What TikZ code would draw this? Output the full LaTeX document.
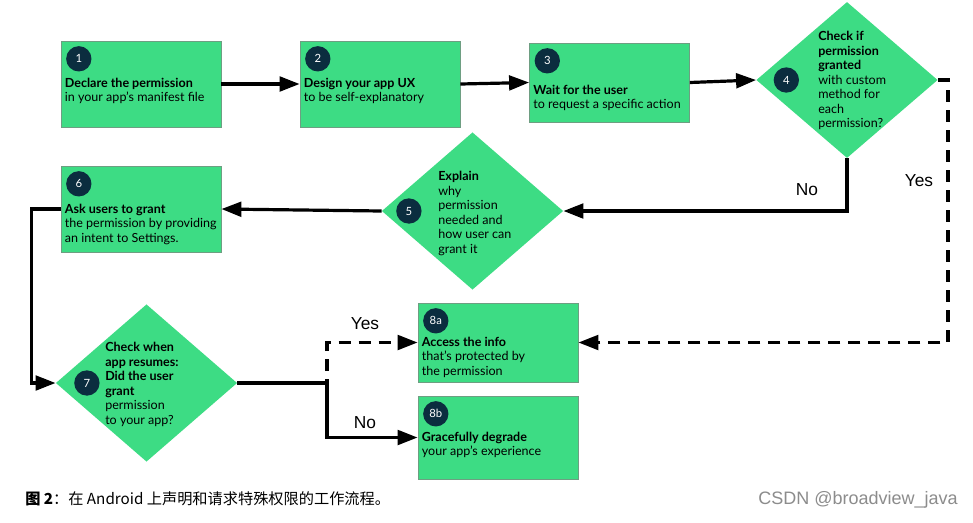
\documentclass[tikz,border=0pt]{standalone}
\usepackage{fontspec}
\setmainfont{Lato}
\newfontfamily\cjk{Noto Sans CJK SC}
\newfontfamily\lblfont{Liberation Sans}
\usetikzlibrary{shapes.geometric, arrows.meta, positioning}

\definecolor{droidgreen}{HTML}{3DDC84}
\definecolor{droidnavy}{HTML}{0B2D3F}
\definecolor{edgegray}{HTML}{6E9E82}

\tikzset{
  stepbox/.style={rectangle, fill=droidgreen, draw=edgegray, line width=0.6pt,
    minimum width=120pt, inner sep=0pt},
  choice/.style={diamond, fill=droidgreen, inner sep=0pt,
    minimum width=136pt, minimum height=118pt},
  num/.style={circle, fill=droidnavy, text=white, minimum size=19pt, inner sep=0pt,
    font=\fontsize{8.5}{8.5}\selectfont},
  txt/.style={anchor=north west, align=left, inner sep=0pt,
    font=\fontsize{9.4}{10.9}\selectfont},
  flow/.style={line width=2.4pt, -{Triangle[length=15pt, width=11pt]}},
  yesflow/.style={flow, dash pattern=on 9pt off 6pt},
  lbl/.style={font=\lblfont\fontsize{13}{13}\selectfont},
}

\begin{document}
\begin{tikzpicture}[x=0.75pt, y=-0.75pt]
  \useasboundingbox[fill=white] (0,0) rectangle (973,522);

  % steps
  \node (b1) [stepbox, minimum height=64.5pt] at (141,84) {};
  \node (b2) [stepbox, minimum height=64.5pt] at (380,84) {};
  \node (b3) [stepbox, minimum height=59.25pt] at (609.5,82.5) {};
  \node (b6) [stepbox, minimum height=64.5pt] at (141,209) {};
  \node (b8a) [stepbox, minimum height=59.25pt] at (498,342.5) {};
  \node (b8b) [stepbox, minimum height=62.25pt] at (498,437.5) {};

  % decisions
  \node (d4) [choice, minimum height=117pt] at (847,80) {};
  \node (d5) [choice] at (472.5,211) {};
  \node (d7) [choice] at (146.5,383) {};

  % numbers
  \node (n1) [num, below right=6.8pt and 6.8pt of b1.north west] {1};
  \node (n2) [num, below right=6.8pt and 6.8pt of b2.north west] {2};
  \node (n3) [num, below right=6.8pt and 6.8pt of b3.north west] {3};
  \node (n6) [num, below right=6.8pt and 6.8pt of b6.north west] {6};
  \node (n8a) [num, below right=6.8pt and 6.8pt of b8a.north west] {8a};
  \node (n8b) [num, below right=6.8pt and 6.8pt of b8b.north west] {8b};
  \node (n4) [num, right=13pt of d4.west] {4};
  \node (n5) [num, right=10.8pt of d5.west] {5};
  \node (n7) [num, right=13.8pt of d7.west] {7};

  % texts
  \node (t1) [txt] at ([shift={(4,37)}]b1.north west)
    {\textbf{Declare the permission}\\in your app’s manifest file};
  \node (t2) [txt] at ([shift={(4,37)}]b2.north west)
    {\textbf{Design your app UX}\\to be self-explanatory};
  \node (t3) [txt] at ([shift={(4,42)}]b3.north west)
    {\textbf{Wait for the user}\\to request a specific action};
  \node (t6) [txt] at ([shift={(4,38)}]b6.north west)
    {\textbf{Ask users to grant}\\the permission by providing\\an intent to Settings.};
  \node (t8a) [txt] at ([shift={(4,34)}]b8a.north west)
    {\textbf{Access the info}\\that’s protected by\\the permission};
  \node (t8b) [txt] at ([shift={(4,36)}]b8b.north west)
    {\textbf{Gracefully degrade}\\your app’s experience};
  \node (t4) [txt] at (818,31)
    {\textbf{Check if}\\\textbf{permission}\\\textbf{granted}\\with custom\\method for\\each\\permission?};
  \node (t5) [txt] at (438,171)
    {\textbf{Explain}\\why\\permission\\needed and\\how user can\\grant it};
  \node (t7) [txt] at (105,342)
    {\textbf{Check when}\\\textbf{app resumes:}\\\textbf{Did the user}\\\textbf{grant}\\permission\\to your app?};

  % connectors
  \draw[flow] (b1.east) -- (b2.west);
  \draw[flow] (b2.east) -- (b3.west);
  \draw[flow] (b3.east) -- (d4.west);
  \draw[flow] (d4.south) |- (d5.east);
  \draw[yesflow] (d4.east) -- ++(10,0) |- (b8a.east);
  \draw[flow] (d5.west) -- (b6.east);
  \draw[flow] (b6.west) -- ++(-29,0) |- (d7.west);
  \coordinate (fork) at (327,383);
  \draw[line width=2.4pt] (d7.east) -- (fork);
  \draw[yesflow] ([yshift=-6pt]fork) |- (b8a.west);
  \draw[flow] (fork) |- (b8b.west);

  % labels
  \node (no4) [lbl] at (807,190) {No};
  \node (yes4) [lbl] at (919,181) {Yes};
  \node (yes7) [lbl] at (365,324) {Yes};
  \node (no7) [lbl] at (365,423) {No};

  % caption
  \node (cap) [anchor=west, inner sep=0pt, font=\cjk\fontsize{11.4}{11.4}\selectfont]
    at (25,499) {\textbf{图 2}：在 Android 上声明和请求特殊权限的工作流程。};
  \node (mark) [anchor=east, inner sep=0pt, text=black!45, font=\lblfont\fontsize{13.5}{13.5}\selectfont]
    at (958,500) {CSDN @broadview\_java};
\end{tikzpicture}
\end{document}
